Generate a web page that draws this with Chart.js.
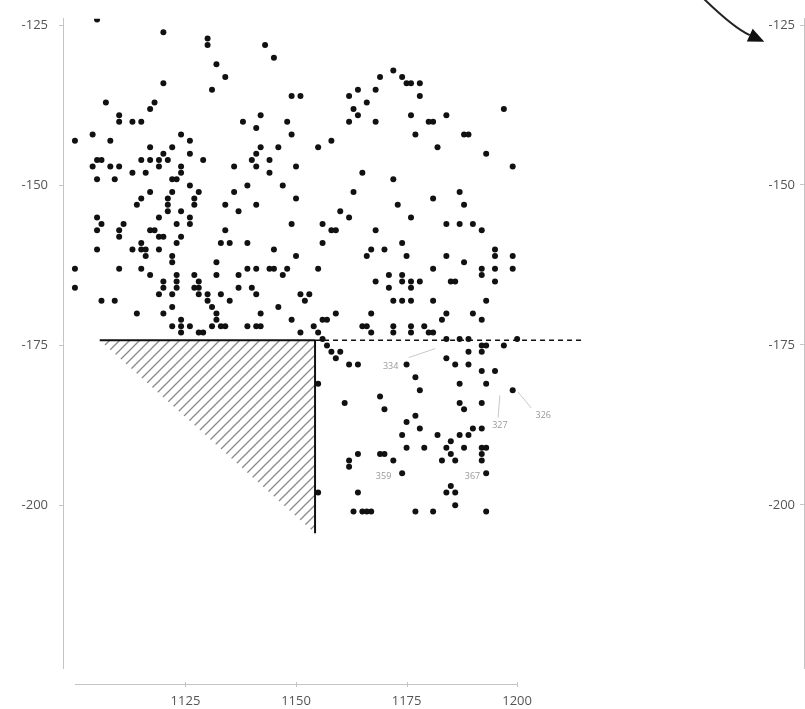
<!DOCTYPE html>
<html>
<head>
<meta charset="utf-8">
<title>Scatter</title>
<script src="https://cdn.jsdelivr.net/npm/chart.js@4.4.0/dist/chart.umd.min.js"></script>
<style>
  html, body { margin: 0; padding: 0; background: #fff; overflow: hidden; }
  #wrap { position: relative; width: 805px; height: 709px; overflow: hidden; }
  #main { position: absolute; left: 0; top: 0; }
  #side { position: absolute; left: 741px; top: 0; }
</style>
</head>
<body>
<div id="wrap">
  <canvas id="main" width="805" height="709"></canvas>
  <canvas id="side" width="200" height="709"></canvas>
</div>
<script>
// points
const pointX = [
  1105,1120,1130,1130,1143,1145,1132,1134,1120,1131,1149,1107,1118,1117,1110,1110,1113,1115,1142,1138,
  1141,1148,1149,1100,1104,1108,1124,1126,1117,1122,1120,1119,1121,1126,1142,1141,1140,1146,1104,1105,
  1106,1108,1110,1115,1117,1119,1124,1124,1129,1136,1141,1144,1144,1150,1113,1116,1105,1109,1122,1123,
  1139,1147,1126,1128,1117,1122,1136,1150,
  1151,1155,1158,1162,1164,1168,1169,1172,1174,1175,1176,1178,1178,1163,1164,1166,1162,1168,1176,1180,
  1181,1184,1177,1188,1189,1182,1197,1193,1199,1165,1172,1163,1181,1187,
  1114,1115,1121,1121,1127,1127,1134,1141,1121,1124,1137,1105,1106,1119,1111,1123,1126,1126,1149,1105,
  1110,1110,1117,1118,1119,1120,1134,1124,1123,1133,1135,1139,1115,1115,1116,1116,1105,1113,1119,1122,
  1122,1145,1132,1100,1110,1115,1139,1141,1144,1145,1148,1147,1150,1117,1123,1123,1123,1127,1128,1128,
  1128,1132,1137,1100,1120,1120,1119,1122,1127,1130,1130,1131,1132,1132,1133,1133,1135,1137,1140,1141,
  1106,1109,1122,1146,1114,1120,1142,1149,1122,1124,1124,1124,1126,1129,1128,1131,1134,1139,1141,1142,
  1188,1173,1160,1162,1176,1156,1158,1159,1168,1184,1187,1190,1192,1156,1174,1166,1167,1170,1175,1184,
  1188,1195,1195,1199,1155,1181,1192,1192,1195,1199,1168,1171,1174,1174,1176,1178,1176,1171,1185,1186,
  1195,1151,1152,1153,1172,1174,1176,1181,1193,1167,1184,1183,1190,1192,1159,1157,1156,1154,1155,1156,
  1151,1165,1166,1167,1172,1172,1176,1176,1179,1180,1181,1160,1157,1189,1192,1192,1193,1197,1187,1189,
  1200,1184,
  1158,1159,1162,1164,1175,1177,1178,1184,1186,1189,1192,1195,1199,1187,1193,1161,1169,1170,1187,1188,
  1192,1175,1177,1178,1174,1182,1185,1187,1189,1190,1192,1175,1179,1184,1188,1192,1193,1185,1186,1183,
  1192,1192,1164,1162,1162,1169,1170,1172,1174,1193,1155,1164,1184,1185,1186,1186,1163,1165,1166,1167,
  1177,1181,1193,1155
];
const pointY = [
  -124,-126,-127,-128,-128,-130,-131,-133,-134,-135,-136,-137,-137,-138,-139,-140,-140,-140,-139,-140,
  -141,-140,-142,-143,-142,-143,-142,-143,-144,-144,-145,-146,-146,-145,-144,-145,-146,-144,-147,-146,
  -146,-147,-147,-146,-146,-147,-147,-148,-146,-147,-147,-146,-148,-147,-148,-148,-149,-149,-149,-149,
  -150,-150,-150,-151,-151,-151,-151,-152,
  -136,-144,-143,-136,-135,-135,-133,-132,-133,-134,-134,-134,-136,-138,-139,-137,-140,-140,-139,-140,
  -140,-139,-142,-142,-142,-144,-138,-145,-147,-148,-149,-151,-152,-151,
  -153,-152,-152,-153,-152,-153,-153,-153,-154,-154,-154,-155,-156,-155,-156,-156,-155,-156,-156,-157,
  -157,-158,-157,-157,-158,-158,-157,-158,-159,-159,-159,-159,-159,-160,-160,-161,-160,-160,-160,-161,
  -162,-160,-162,-163,-163,-163,-163,-163,-163,-163,-163,-164,-161,-164,-164,-165,-166,-164,-165,-166,
  -167,-164,-164,-166,-165,-166,-167,-167,-166,-167,-168,-169,-170,-171,-172,-167,-168,-166,-166,-167,
  -168,-168,-169,-169,-170,-170,-170,-171,-172,-171,-172,-173,-172,-173,-173,-172,-172,-172,-172,-172,
  -153,-153,-154,-155,-155,-156,-157,-157,-157,-156,-156,-156,-157,-159,-159,-161,-160,-160,-161,-161,
  -162,-161,-160,-161,-163,-163,-164,-163,-163,-163,-165,-164,-164,-165,-165,-165,-166,-166,-165,-165,
  -165,-167,-168,-167,-168,-168,-168,-168,-168,-170,-170,-171,-170,-171,-170,-171,-171,-172,-173,-174,
  -173,-172,-172,-173,-172,-173,-172,-173,-172,-173,-173,-176,-175,-176,-175,-176,-175,-175,-174,-174,
  -174,-174,
  -176,-177,-178,-178,-178,-180,-182,-177,-178,-178,-179,-179,-182,-181,-181,-184,-183,-185,-184,-185,
  -184,-187,-186,-188,-189,-189,-190,-189,-189,-188,-188,-191,-191,-191,-191,-191,-191,-192,-193,-193,
  -192,-193,-192,-193,-194,-192,-192,-193,-195,-195,-198,-198,-198,-197,-198,-200,-201,-201,-201,-201,
  -201,-201,-201,-181
];

const xTicks = [1125, 1150, 1175, 1200];
const yTicks = [-125, -150, -175, -200];
const xAxisRange = [1100, 1200];

// threshold lines and shaded corner
const cutX = 1154.3;
const cutY = -174.2;
const hLineStart = 1105.6;
const dashEnd = 1215;
const vLineEnd = -204.4;

// point labels with their leader lines
const labelText = ['334', '327', '326', '359', '367'];
const labelX = [1171.4, 1196.1, 1205.9, 1169.8, 1189.9];
const labelY = [-178.3, -187.5, -185.9, -195.5, -195.5];
const leaderX1 = [1175.5, 1195.7, 1203.2];
const leaderY1 = [-176.9, -186.3, -184.8];
const leaderX2 = [1181.5, 1196.1, 1200.2];
const leaderY2 = [-175.5, -182.8, -182.3];

// arrow at the top right: start, bend, tip
const arrowX = [1240.8, 1248.6, 1255.9];
const arrowY = [-119.8, -125.2, -127.5];

const tickFont = { family: '"Open Sans", "DejaVu Sans", sans-serif', size: 13 };
const tickColor = '#555';
const axisColor = '#c4c4c4';

function hatchPattern() {
    const c = document.createElement('canvas');
    c.width = 10; c.height = 10;
    const g = c.getContext('2d');
    g.strokeStyle = '#8a8a8a';
    g.lineWidth = 1.3;
    g.beginPath();
    g.moveTo(0, 10); g.lineTo(10, 0);
    g.moveTo(-5, 5); g.lineTo(5, -5);
    g.moveTo(5, 15); g.lineTo(15, 5);
    g.stroke();
    return g.createPattern(c, 'repeat');
}

function yScale(padding) {
    return {
        type: 'linear',
        min: -225.47,
        max: -123.906,
        afterBuildTicks: s => { s.ticks = yTicks.map(v => ({ value: v })); },
        afterFit: s => { s.width = 63; },
        grid: { drawOnChartArea: false, drawTicks: true, tickLength: 4, color: axisColor },
        border: { display: true, color: axisColor, width: 1 },
        ticks: { padding: padding, font: tickFont, color: tickColor, callback: v => String(v) }
    };
}

const extras = {
    id: 'extras',
    afterDatasetsDraw(chart) {
        const { ctx, chartArea, scales: { x, y } } = chart;
        ctx.save();

        // x axis, drawn apart from the plot
        const ay = chartArea.bottom + 16.5;
        ctx.strokeStyle = axisColor;
        ctx.lineWidth = 1;
        ctx.beginPath();
        ctx.moveTo(x.getPixelForValue(xAxisRange[0]), ay);
        ctx.lineTo(x.getPixelForValue(xAxisRange[1]), ay);
        xTicks.forEach(v => {
            const px = Math.round(x.getPixelForValue(v)) + 0.5;
            ctx.moveTo(px, ay - 2.5);
            ctx.lineTo(px, ay + 2.5);
        });
        ctx.stroke();

        // leader lines
        ctx.strokeStyle = '#c8c8c8';
        ctx.beginPath();
        leaderX1.forEach((v, i) => {
            ctx.moveTo(x.getPixelForValue(v), y.getPixelForValue(leaderY1[i]));
            ctx.lineTo(x.getPixelForValue(leaderX2[i]), y.getPixelForValue(leaderY2[i]));
        });
        ctx.stroke();

        // labels
        ctx.fillStyle = '#999';
        ctx.font = '9px "Open Sans", sans-serif';
        ctx.textAlign = 'center';
        ctx.textBaseline = 'middle';
        labelText.forEach((t, i) => {
            ctx.fillText(t, x.getPixelForValue(labelX[i]), y.getPixelForValue(labelY[i]));
        });

        // arrow
        const p0 = [x.getPixelForValue(arrowX[0]), y.getPixelForValue(arrowY[0])];
        const p1 = [x.getPixelForValue(arrowX[1]), y.getPixelForValue(arrowY[1])];
        const p2 = [x.getPixelForValue(arrowX[2]), y.getPixelForValue(arrowY[2])];
        const ang = Math.atan2(p2[1] - p1[1], p2[0] - p1[0]);
        const headLen = 16, headHalf = 7;
        const base = [p2[0] - headLen * Math.cos(ang), p2[1] - headLen * Math.sin(ang)];
        ctx.strokeStyle = '#222';
        ctx.lineWidth = 2;
        ctx.beginPath();
        ctx.moveTo(p0[0], p0[1]);
        ctx.quadraticCurveTo(p1[0], p1[1], base[0], base[1]);
        ctx.stroke();
        ctx.fillStyle = '#111';
        ctx.beginPath();
        ctx.moveTo(p2[0], p2[1]);
        ctx.lineTo(base[0] - headHalf * Math.sin(ang), base[1] + headHalf * Math.cos(ang));
        ctx.lineTo(base[0] + headHalf * Math.sin(ang), base[1] - headHalf * Math.cos(ang));
        ctx.closePath();
        ctx.fill();

        ctx.restore();
    }
};

new Chart(document.getElementById('main'), {
    type: 'scatter',
    data: {
        datasets: [
            {
                data: [{ x: hLineStart, y: cutY }, { x: cutX, y: vLineEnd }],
                showLine: true,
                fill: { value: cutY },
                backgroundColor: hatchPattern(),
                borderWidth: 0,
                pointRadius: 0,
                order: 5
            },
            {
                data: [{ x: hLineStart, y: cutY }, { x: cutX, y: cutY }],
                showLine: true,
                borderColor: '#111',
                borderWidth: 2,
                pointRadius: 0,
                order: 4
            },
            {
                data: [{ x: cutX, y: cutY }, { x: dashEnd, y: cutY }],
                showLine: true,
                borderColor: '#111',
                borderWidth: 1.5,
                borderDash: [5, 4],
                pointRadius: 0,
                order: 4
            },
            {
                data: [{ x: cutX, y: cutY }, { x: cutX, y: vLineEnd }],
                showLine: true,
                borderColor: '#111',
                borderWidth: 2,
                pointRadius: 0,
                order: 4
            },
            {
                data: pointX.map((v, i) => ({ x: v, y: pointY[i] })),
                backgroundColor: '#111',
                borderWidth: 0,
                pointRadius: 3,
                order: 1
            }
        ]
    },
    options: {
        responsive: false,
        animation: false,
        devicePixelRatio: 1,
        layout: { padding: { top: 18, right: 1, left: 0, bottom: 0 } },
        plugins: { legend: { display: false }, tooltip: { enabled: false } },
        scales: {
            x: {
                type: 'linear',
                min: 1097.3,
                max: 1264.2,
                afterBuildTicks: s => { s.ticks = xTicks.map(v => ({ value: v })); },
                afterFit: s => { s.height = 41; },
                grid: { display: false, drawTicks: false },
                border: { display: false },
                ticks: { padding: 25, font: tickFont, color: tickColor, maxRotation: 0, autoSkip: false, callback: v => String(v) }
            },
            y: yScale(11)
        }
    },
    plugins: [extras]
});

// the next panel, only its axis shows at the right edge
new Chart(document.getElementById('side'), {
    type: 'scatter',
    data: { datasets: [] },
    options: {
        responsive: false,
        animation: false,
        devicePixelRatio: 1,
        layout: { padding: { top: 18, bottom: 41 } },
        plugins: { legend: { display: false }, tooltip: { enabled: false } },
        scales: {
            x: { type: 'linear', min: 0, max: 1, display: false },
            y: yScale(5)
        }
    }
});
</script>
</body>
</html>
